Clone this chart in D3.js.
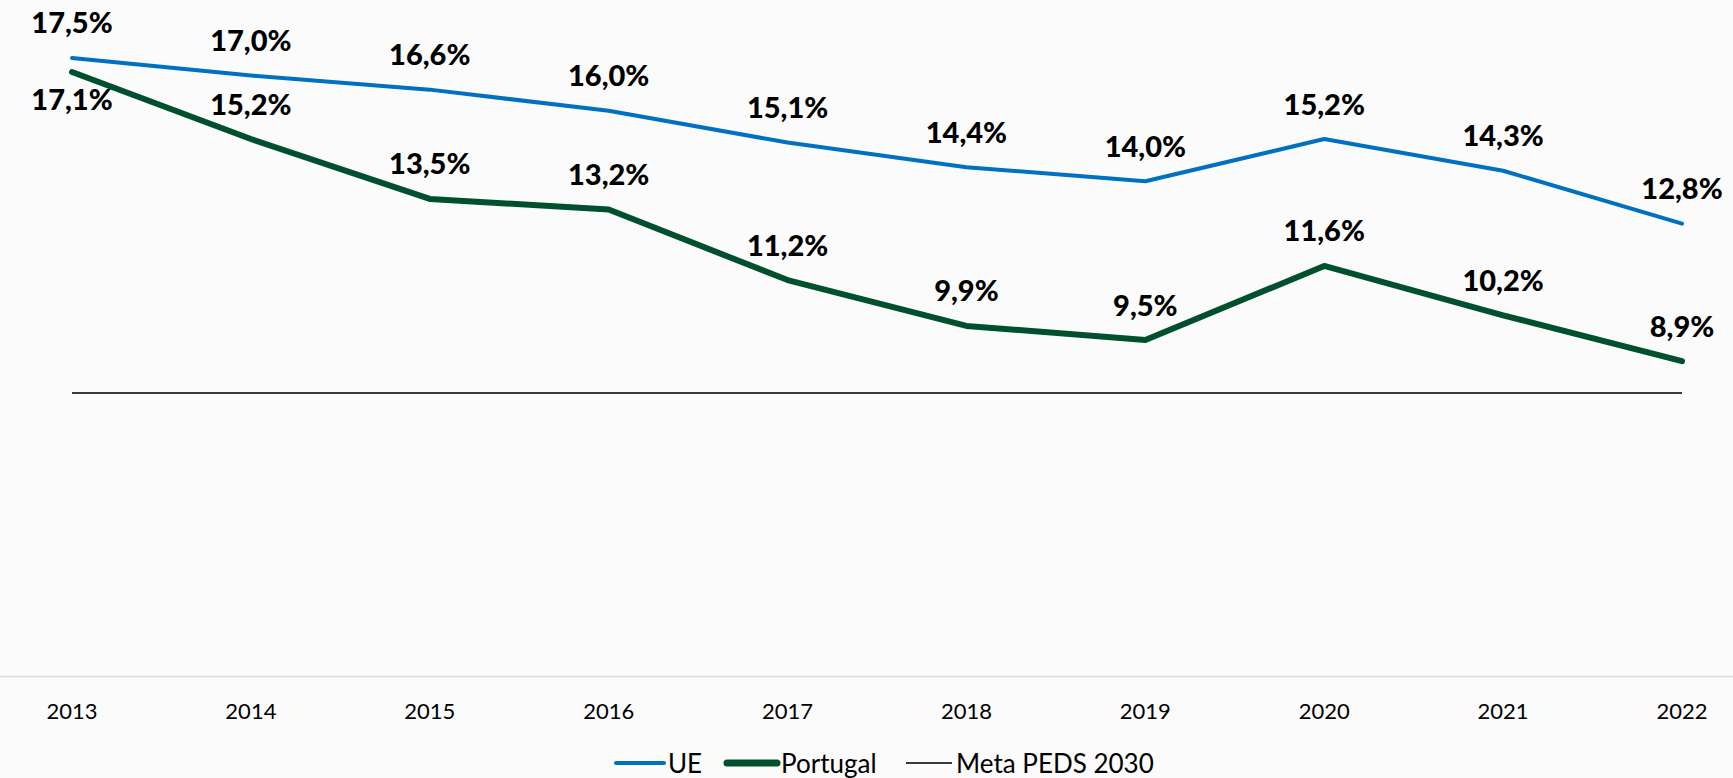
<!DOCTYPE html>
<html>
<head>
<meta charset="utf-8">
<script src="https://cdn.jsdelivr.net/npm/d3@7"></script>
<style>
  body { margin: 0; background: #fbfbfb; }
  svg { display: block; }
  text { font-family: Lato, "Open Sans", sans-serif; fill: #000; }
</style>
</head>
<body>
<svg id="chart" width="1733" height="778"></svg>
<script>
const years = ["2013", "2014", "2015", "2016", "2017", "2018", "2019", "2020", "2021", "2022"];
const ueValues = [17.5, 17.0, 16.6, 16.0, 15.1, 14.4, 14.0, 15.2, 14.3, 12.8];
const ptValues = [17.1, 15.2, 13.5, 13.2, 11.2, 9.9, 9.5, 11.6, 10.2, 8.9];
const metaValue = 8.0;
const legendLabels = ["UE", "Portugal", "Meta PEDS 2030"];

const width = 1733, height = 778;
const svg = d3.select("#chart");

svg.append("rect")
  .attr("width", width)
  .attr("height", height)
  .attr("fill", "#fbfbfb");

const x = d3.scalePoint()
  .domain(years)
  .range([72, 1682]);

const y = d3.scaleLinear()
  .domain([0, 19])
  .range([675, 5]);

// category axis line + labels
svg.append("line")
  .attr("x1", 0)
  .attr("x2", width)
  .attr("y1", 676.5)
  .attr("y2", 676.5)
  .attr("stroke", "#d9d9d9")
  .attr("stroke-width", 1.5);

svg.selectAll(".tick-label")
  .data(years)
  .enter().append("text")
  .attr("class", "tick-label")
  .attr("x", d => x(d))
  .attr("y", 710)
  .attr("text-anchor", "middle")
  .attr("dominant-baseline", "central")
  .style("font-size", "22px")
  .text(d => d);

const line = d3.line()
  .x((d, i) => x(years[i]))
  .y(d => y(d));

// target line
svg.append("line")
  .attr("x1", x(years[0]))
  .attr("x2", x(years[years.length - 1]))
  .attr("y1", y(metaValue))
  .attr("y2", y(metaValue))
  .attr("stroke", "#3a3a3a")
  .attr("stroke-width", 2);

svg.append("path")
  .datum(ueValues)
  .attr("d", line)
  .attr("fill", "none")
  .attr("stroke", "#0070c0")
  .attr("stroke-width", 4)
  .attr("stroke-linecap", "round")
  .attr("stroke-linejoin", "round");

svg.append("path")
  .datum(ptValues)
  .attr("d", line)
  .attr("fill", "none")
  .attr("stroke", "#00502f")
  .attr("stroke-width", 6)
  .attr("stroke-linecap", "round")
  .attr("stroke-linejoin", "round");

const fmt = v => v.toFixed(1).replace(".", ",") + "%";

svg.selectAll(".ue-label")
  .data(ueValues)
  .enter().append("text")
  .attr("class", "ue-label")
  .attr("x", (d, i) => x(years[i]))
  .attr("y", d => y(d) - 36)
  .attr("text-anchor", "middle")
  .attr("dominant-baseline", "central")
  .style("font-size", "29px")
  .style("font-weight", "900")
  .text(fmt);

svg.selectAll(".pt-label")
  .data(ptValues)
  .enter().append("text")
  .attr("class", "pt-label")
  .attr("x", (d, i) => x(years[i]))
  .attr("y", (d, i) => i === 0 ? y(d) + 26 : y(d) - 36)
  .attr("text-anchor", "middle")
  .attr("dominant-baseline", "central")
  .style("font-size", "29px")
  .style("font-weight", "900")
  .text(fmt);

// legend
const legendItems = [
  { label: legendLabels[0], color: "#0070c0", w: 4, x1: 616, x2: 664 },
  { label: legendLabels[1], color: "#00502f", w: 7, x1: 727, x2: 777 },
  { label: legendLabels[2], color: "#3a3a3a", w: 2, x1: 906, x2: 952 }
];
const legend = svg.append("g");
legendItems.forEach(d => {
  legend.append("line")
    .attr("x1", d.x1).attr("x2", d.x2)
    .attr("y1", 763).attr("y2", 763)
    .attr("stroke", d.color)
    .attr("stroke-width", d.w)
    .attr("stroke-linecap", d.w > 2 ? "round" : "butt");
  legend.append("text")
    .attr("x", d.x2 + 4)
    .attr("y", 763)
    .attr("dominant-baseline", "central")
    .style("font-size", "26px")
    .text(d.label);
});
</script>
</body>
</html>
